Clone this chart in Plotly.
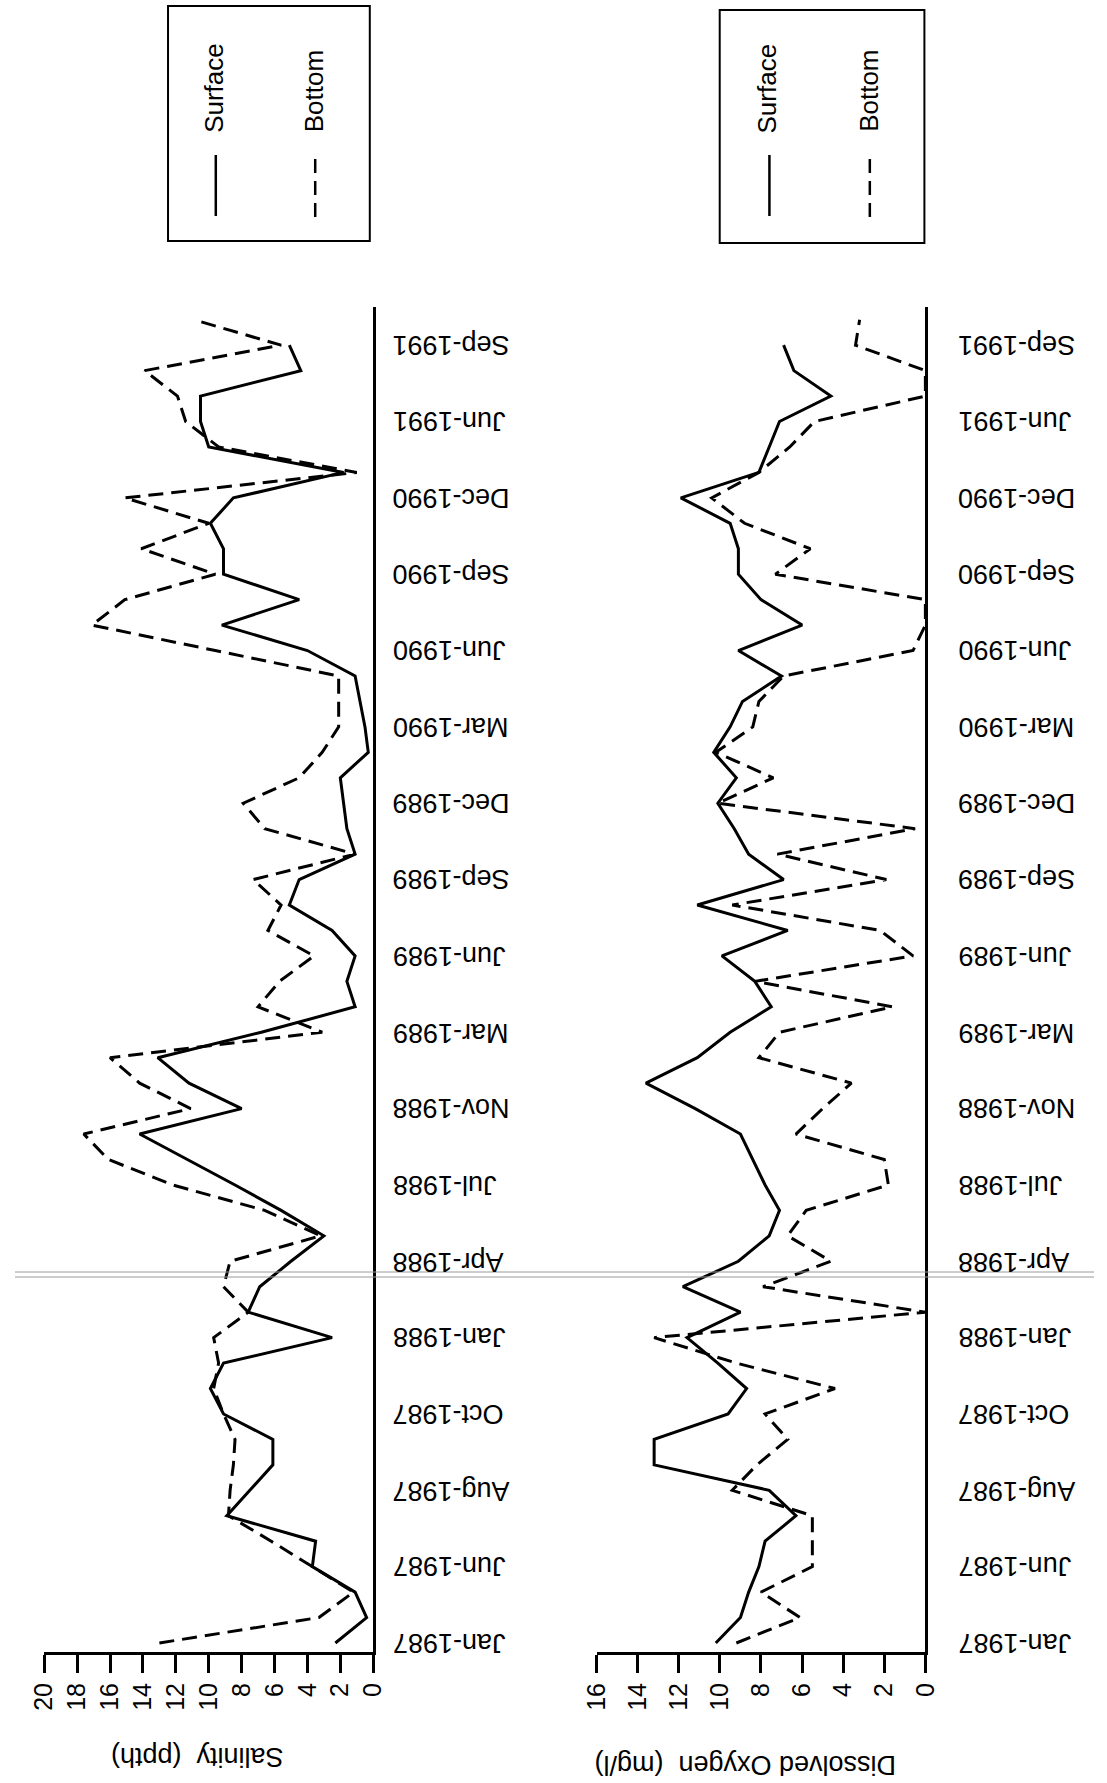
import plotly.graph_objects as go

# Sampling events (index along the time axis); labels every third sample
sample_idx = list(range(53))
date_label_idx = list(range(0, 52, 3))
date_labels = ["Jan-1987", "Jun-1987", "Aug-1987", "Oct-1987", "Jan-1988", "Apr-1988",
               "Jul-1988", "Nov-1988", "Mar-1989", "Jun-1989", "Sep-1989", "Dec-1989",
               "Mar-1990", "Jun-1990", "Sep-1990", "Dec-1990", "Jun-1991", "Sep-1991"]

# Salinity (ppth)
salinity_surface = [2.3, 0.4, 1.1, 3.7, 3.5, 8.9, 7.5, 6.1, 6.1, 9.1,
                    9.9, 9.1, 2.5, 7.6, 6.9, 5.0, 3.0, 5.6, 8.4, 11.3,
                    14.2, 8.0, 11.2, 13.1, 6.8, 1.1, 1.6, 1.1, 2.5, 5.1,
                    4.5, 1.1, 1.6, 1.8, 2.0, 0.3, 0.5, 0.8, 1.1, 4.0,
                    9.2, 4.5, 9.1, 9.1, 9.9, 8.5, 1.8, 10.0, 10.5, 10.5,
                    4.4, 5.1, None]
salinity_bottom = [13.0, 3.3, 1.2, 3.7, 6.2, 8.8, 8.7, 8.5, 8.4, 9.1,
                   9.7, 9.4, 9.7, 7.6, 9.1, 8.7, 3.2, 6.6, 12.2, 16.1,
                   17.6, 11.1, 14.2, 16.0, 3.1, 7.0, 5.7, 3.6, 6.4, 5.6,
                   7.3, 1.1, 6.6, 7.9, 4.5, 3.1, 2.1, 2.1, 2.1, 9.6,
                   17.1, 15.1, 9.6, 14.1, 10.0, 15.1, 1.0, 9.4, 11.4, 11.9,
                   13.9, 5.6, 10.9]

# Dissolved oxygen (mg/l)
do_surface = [10.2, 9.0, 8.6, 8.1, 7.8, 6.3, 7.6, 13.2, 13.2, 9.6,
              8.7, 10.1, 11.6, 9.0, 11.8, 9.1, 7.6, 7.1, 7.8, 8.4,
              9.0, 11.2, 13.6, 11.1, 9.5, 7.5, 8.3, 9.9, 6.7, 11.1,
              6.9, 8.6, 9.3, 10.1, 9.2, 10.3, 9.5, 8.9, 7.0, 9.1,
              6.0, 8.0, 9.1, 9.1, 9.5, 11.9, 8.1, 7.6, 7.1, 4.6,
              6.4, 6.9, None]
do_bottom = [9.2, 6.1, 8.0, 5.5, 5.5, 5.5, 9.4, 8.2, 6.7, 7.8,
             4.4, 9.2, 13.2, 0.0, 7.9, 4.6, 6.7, 5.8, 1.8, 2.0,
             6.3, 5.0, 3.6, 8.1, 7.1, 1.6, 8.3, 0.6, 2.2, 9.4,
             1.9, 7.2, 0.5, 10.1, 7.4, 10.2, 8.4, 8.1, 6.9, 0.6,
             0.0, 0.0, 7.3, 5.6, 8.8, 10.4, 8.1, 6.6, 5.4, 0.0,
             0.0, 3.4, 3.2]

W, H = 1107, 1783
FONT = "Liberation Sans, Arial, Helvetica, sans-serif"


def px(x):
    return x / W


def py(y):
    return 1 - y / H


solid = dict(color="black", width=3)
dashed = dict(color="black", width=3, dash="15px,8px")

fig = go.Figure()
fig.add_trace(go.Scatter(x=salinity_surface, y=sample_idx, mode="lines", line=solid,
                         name="Surface", xaxis="x", yaxis="y", connectgaps=False))
fig.add_trace(go.Scatter(x=salinity_bottom, y=sample_idx, mode="lines", line=dashed,
                         name="Bottom", xaxis="x", yaxis="y"))
fig.add_trace(go.Scatter(x=do_surface, y=sample_idx, mode="lines", line=solid,
                         name="Surface", xaxis="x2", yaxis="y2", connectgaps=False))
fig.add_trace(go.Scatter(x=do_bottom, y=sample_idx, mode="lines", line=dashed,
                         name="Bottom", xaxis="x2", yaxis="y2"))

y_dom = [py(1652), py(307)]
y_rng = [-0.354, 52.5]

value_axis = dict(showline=True, linewidth=3, linecolor="black", ticks="outside",
                  ticklen=18, tickwidth=2.5, tickcolor="black", tickangle=-90,
                  dtick=2, tick0=0, showgrid=False, zeroline=False,
                  tickfont=dict(family=FONT, size=25, color="black"))
time_axis = dict(range=y_rng, domain=y_dom, side="right", showline=True, linewidth=2.5,
                 linecolor="black", showticklabels=False, ticks="", showgrid=False,
                 zeroline=False)

fig.update_layout(
    width=W, height=H, autosize=False,
    margin=dict(l=0, r=0, t=0, b=0),
    paper_bgcolor="white", plot_bgcolor="white",
    showlegend=False,
    font=dict(family=FONT, color="black"),
    xaxis=dict(value_axis, domain=[px(30), px(367.5)], range=[20, 0], anchor="y"),
    yaxis=dict(time_axis, anchor="x"),
    xaxis2=dict(value_axis, domain=[px(596.7), px(934)], range=[16, 0], anchor="y2"),
    yaxis2=dict(time_axis, anchor="x2"),
)

annotations = []
# Date labels, drawn upside down beside each panel's time axis
for label_x, yref in ((385, "y"), (966, "y2")):
    for idx, lab in zip(date_label_idx, date_labels):
        annotations.append(dict(text=lab, xref="paper", x=px(label_x), xanchor="left",
                                yref=yref, y=idx, yanchor="middle", textangle=180,
                                showarrow=False, font=dict(family=FONT, size=27)))

# Value axis titles
annotations.append(dict(text="Salinity  (ppth)", xref="paper", yref="paper",
                        x=px(187), y=py(1757), xanchor="center", yanchor="middle",
                        textangle=180, showarrow=False, font=dict(family=FONT, size=27)))
annotations.append(dict(text="Dissolved Oxygen  (mg/l)", xref="paper", yref="paper",
                        x=px(749), y=py(1765), xanchor="center", yanchor="middle",
                        textangle=180, showarrow=False, font=dict(family=FONT, size=27)))

shapes = []
# Legend boxes with line samples
for left, right, top, bottom, s_x, b_x in ((157, 364, 6, 241, 206, 308),
                                           (723, 933, 10, 243, 774, 877)):
    shapes.append(dict(type="rect", xref="paper", yref="paper",
                       x0=px(left), x1=px(right), y0=py(bottom), y1=py(top),
                       line=dict(color="black", width=2)))
    shapes.append(dict(type="line", xref="paper", yref="paper",
                       x0=px(s_x), x1=px(s_x), y0=py(216), y1=py(155),
                       line=dict(color="black", width=2.5)))
    shapes.append(dict(type="line", xref="paper", yref="paper",
                       x0=px(b_x), x1=px(b_x), y0=py(217), y1=py(158),
                       line=dict(color="black", width=2.5, dash="14px,8px")))
    annotations.append(dict(text="Surface", xref="paper", yref="paper",
                            x=px(s_x - 2), y=py(88), xanchor="center", yanchor="middle",
                            textangle=-90, showarrow=False, font=dict(family=FONT, size=26)))
    annotations.append(dict(text="Bottom", xref="paper", yref="paper",
                            x=px(b_x - 1), y=py(91), xanchor="center", yanchor="middle",
                            textangle=-90, showarrow=False, font=dict(family=FONT, size=26)))

# Faint double rule across the page
for yy in (1272, 1277):
    shapes.append(dict(type="line", xref="paper", yref="paper", x0=0, x1=1,
                       y0=py(yy), y1=py(yy), line=dict(color="#9a9a9a", width=1)))

fig.update_layout(annotations=annotations, shapes=shapes)

fig.write_html("out.html")
